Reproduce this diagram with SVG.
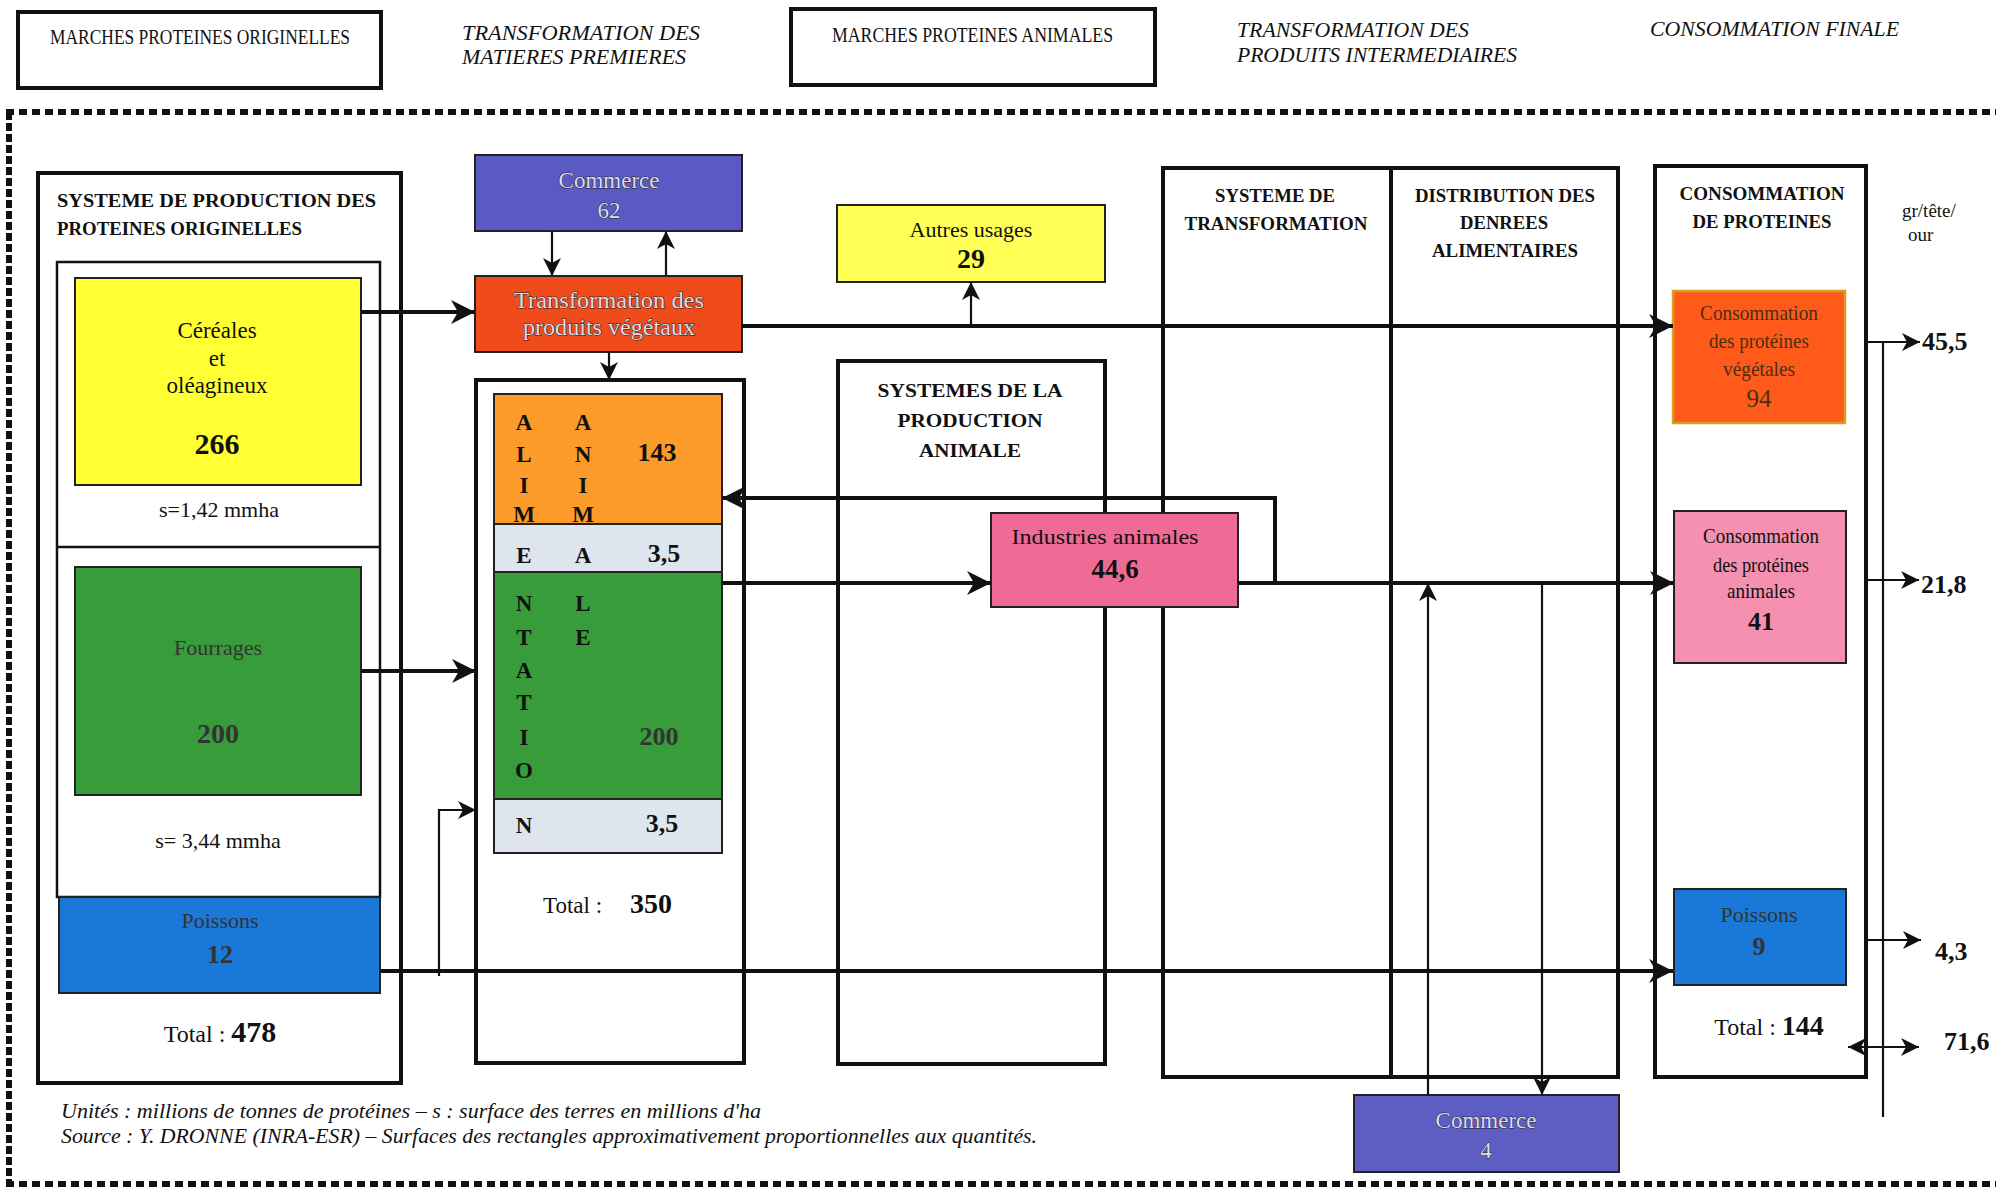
<svg xmlns="http://www.w3.org/2000/svg" width="1996" height="1192" viewBox="0 0 1996 1192">
<defs>
<style>
.t{font-family:"Liberation Serif","Times New Roman",serif;fill:#111}
.b{font-weight:bold}
.i{font-style:italic}
.m{text-anchor:middle}
.box{fill:#fff;stroke:#111;stroke-width:4}
.frame{fill:none;stroke:#111;stroke-width:4}
.inner{fill:none;stroke:#111;stroke-width:2.5}
.node{stroke:#222;stroke-width:2}
.flow{fill:none;stroke:#111;stroke-width:4}
.fine{fill:none;stroke:#111;stroke-width:2.2}
.emb{fill:#dcdcea;stroke:#222;stroke-width:0.9;paint-order:stroke}
.dk{fill:#333}
.dots{fill:none;stroke:#111;stroke-width:6}
</style>
<marker id="ah" markerUnits="userSpaceOnUse" markerWidth="26" markerHeight="26" refX="24" refY="12" orient="auto">
<path d="M0,0 L24,12 L0,24 L7,12 z" fill="#111"/>
</marker>
<marker id="as" markerUnits="userSpaceOnUse" markerWidth="20" markerHeight="20" refX="18" refY="9" orient="auto-start-reverse">
<path d="M0,0 L18,9 L0,18 L5,9 z" fill="#111"/>
</marker>
</defs>
<rect x="0" y="0" width="1996" height="1192" fill="#fff"/>

<!-- header -->
<g id="header-marches-originelles">
<rect x="18" y="12" width="363" height="76" class="frame"/>
<text class="t" x="50" y="44" font-size="22" textLength="300" lengthAdjust="spacingAndGlyphs">MARCHES PROTEINES ORIGINELLES</text>
</g>
<g id="header-transformation-mp">
<text class="t i" x="462" y="40" font-size="22" textLength="238" lengthAdjust="spacingAndGlyphs">TRANSFORMATION  DES</text>
<text class="t i" x="462" y="64" font-size="22" textLength="224" lengthAdjust="spacingAndGlyphs">MATIERES PREMIERES</text>
</g>
<g id="header-marches-animales">
<rect x="791" y="9" width="364" height="76" class="frame"/>
<text class="t" x="832" y="42" font-size="22" textLength="281" lengthAdjust="spacingAndGlyphs">MARCHES PROTEINES ANIMALES</text>
</g>
<g id="header-transformation-pi">
<text class="t i" x="1237" y="37" font-size="22" textLength="232" lengthAdjust="spacingAndGlyphs">TRANSFORMATION DES</text>
<text class="t i" x="1237" y="62" font-size="22" textLength="280" lengthAdjust="spacingAndGlyphs">PRODUITS INTERMEDIAIRES</text>
</g>
<g id="header-consommation-finale">
<text class="t i" x="1650" y="36" font-size="22" textLength="249" lengthAdjust="spacingAndGlyphs">CONSOMMATION FINALE</text>
</g>

<!-- dotted frame -->
<g id="dotted-frame">
<line x1="6" y1="112" x2="1996" y2="112" class="dots" stroke-dasharray="8 5"/>
<line x1="9" y1="112" x2="9" y2="1186" class="dots" stroke-width="5" stroke-dasharray="8 3"/>
<line x1="6" y1="1184" x2="1996" y2="1184" class="dots" stroke-dasharray="8 5"/>
</g>

<!-- left system -->
<g id="systeme-production-originelles">
<rect x="38" y="173" width="363" height="910" class="box"/>
<text class="t b" x="57" y="207" font-size="18" textLength="319" lengthAdjust="spacingAndGlyphs">SYSTEME  DE  PRODUCTION  DES</text>
<text class="t b" x="57" y="235" font-size="18" textLength="245" lengthAdjust="spacingAndGlyphs">PROTEINES ORIGINELLES</text>
<rect x="57" y="262" width="323" height="635" class="inner"/>
<line x1="57" y1="547" x2="380" y2="547" class="inner"/>
<text class="t m" x="219" y="517" font-size="22">s=1,42 mmha</text>
<text class="t m" x="218" y="848" font-size="22">s= 3,44 mmha</text>
<text class="t m" x="220" y="1042"><tspan font-size="24">Total : </tspan><tspan font-size="30" font-weight="bold">478</tspan></text>
</g>
<g id="cereales">
<rect x="75" y="278" width="286" height="207" fill="#ffff33" class="node"/>
<text class="t m" x="217" y="338" font-size="23">Céréales</text>
<text class="t m" x="217" y="366" font-size="23">et</text>
<text class="t m" x="217" y="393" font-size="23">oléagineux</text>
<text class="t m b" x="217" y="454" font-size="30">266</text>
</g>
<g id="fourrages">
<rect x="75" y="567" width="286" height="228" fill="#389c3a" class="node"/>
<text class="t m dk" x="218" y="655" font-size="22">Fourrages</text>
<text class="t m b dk" x="218" y="743" font-size="28">200</text>
</g>
<g id="poissons-origine">
<rect x="59" y="897" width="321" height="96" fill="#1a78d8" class="node"/>
<text class="t m dk" x="220" y="928" font-size="22">Poissons</text>
<text class="t m b dk" x="220" y="963" font-size="26">12</text>
</g>

<!-- transformation des matieres premieres -->
<g id="commerce-62">
<rect x="475" y="155" width="267" height="76" fill="#5a5ac4" class="node"/>
<text class="t m emb" x="609" y="188" font-size="23">Commerce</text>
<text class="t m emb" x="609" y="218" font-size="23">62</text>
</g>
<g id="transformation-vegetaux">
<rect x="475" y="276" width="267" height="76" fill="#ef4b1b" class="node"/>
<text class="t m emb" x="609" y="308" font-size="23" textLength="190" lengthAdjust="spacingAndGlyphs">Transformation des</text>
<text class="t m emb" x="609" y="335" font-size="23" textLength="172" lengthAdjust="spacingAndGlyphs">produits végétaux</text>
</g>
<g id="alimentation-animale">
<rect x="476" y="380" width="268" height="683" class="box"/>
<rect x="494" y="394" width="228" height="130" fill="#fd9b2a" class="node"/>
<rect x="494" y="524" width="228" height="48" fill="#dfe5ee" class="node"/>
<rect x="494" y="572" width="228" height="227" fill="#389c3a" class="node"/>
<rect x="494" y="799" width="228" height="54" fill="#dfe5ee" class="node"/>
<text class="t b m" font-size="23"><tspan x="524" y="430">A</tspan><tspan x="524" y="462">L</tspan><tspan x="524" y="493">I</tspan><tspan x="524" y="522">M</tspan><tspan x="524" y="563">E</tspan><tspan x="524" y="611">N</tspan><tspan x="524" y="645">T</tspan><tspan x="524" y="678">A</tspan><tspan x="524" y="710">T</tspan><tspan x="524" y="745">I</tspan><tspan x="524" y="778">O</tspan><tspan x="524" y="833">N</tspan></text>
<text class="t b m" font-size="23"><tspan x="583" y="430">A</tspan><tspan x="583" y="462">N</tspan><tspan x="583" y="493">I</tspan><tspan x="583" y="522">M</tspan><tspan x="583" y="563">A</tspan><tspan x="583" y="611">L</tspan><tspan x="583" y="645">E</tspan></text>
<text class="t b m" x="657" y="461" font-size="26">143</text>
<text class="t b m" x="664" y="562" font-size="26">3,5</text>
<text class="t b m dk" x="659" y="745" font-size="26">200</text>
<text class="t b m" x="662" y="832" font-size="26">3,5</text>
<text class="t" x="543" y="913"><tspan font-size="23">Total :   </tspan><tspan font-size="28" font-weight="bold" x="630">350</tspan></text>
</g>

<!-- animal production -->
<g id="autres-usages">
<rect x="837" y="205" width="268" height="77" fill="#ffff55" class="node"/>
<text class="t m" x="971" y="237" font-size="22">Autres usages</text>
<text class="t m b" x="971" y="268" font-size="28">29</text>
</g>
<g id="systemes-production-animale">
<rect x="838" y="361" width="267" height="703" class="box"/>
<text class="t b m" x="970" y="397" font-size="19" textLength="185" lengthAdjust="spacingAndGlyphs">SYSTEMES DE LA</text>
<text class="t b m" x="970" y="427" font-size="19" textLength="145" lengthAdjust="spacingAndGlyphs">PRODUCTION</text>
<text class="t b m" x="970" y="457" font-size="19" textLength="102" lengthAdjust="spacingAndGlyphs">ANIMALE</text>
</g>

<!-- transformation / distribution -->
<g id="systeme-transformation">
<rect x="1163" y="168" width="228" height="909" class="frame"/>
<text class="t b m" x="1275" y="202" font-size="19" textLength="120" lengthAdjust="spacingAndGlyphs">SYSTEME DE</text>
<text class="t b m" x="1276" y="230" font-size="19" textLength="183" lengthAdjust="spacingAndGlyphs">TRANSFORMATION</text>
</g>
<g id="distribution-denrees">
<rect x="1391" y="168" width="227" height="909" class="frame"/>
<text class="t b m" x="1505" y="202" font-size="19" textLength="180" lengthAdjust="spacingAndGlyphs">DISTRIBUTION DES</text>
<text class="t b m" x="1504" y="229" font-size="19" textLength="88" lengthAdjust="spacingAndGlyphs">DENREES</text>
<text class="t b m" x="1505" y="257" font-size="19" textLength="146" lengthAdjust="spacingAndGlyphs">ALIMENTAIRES</text>
</g>
<g id="industries-animales">
<rect x="991" y="513" width="247" height="94" fill="#f06a96" class="node"/>
<text class="t m" x="1105" y="544" font-size="22" textLength="187" lengthAdjust="spacingAndGlyphs">Industries animales</text>
<text class="t m b" x="1115" y="578" font-size="27">44,6</text>
</g>
<g id="commerce-4">
<rect x="1354" y="1095" width="265" height="77" fill="#5d5dc4" class="node"/>
<text class="t m emb" x="1486" y="1128" font-size="23">Commerce</text>
<text class="t m emb" x="1486" y="1158" font-size="23">4</text>
</g>

<!-- consumption -->
<g id="consommation-proteines">
<rect x="1655" y="166" width="211" height="911" class="frame"/>
<text class="t b m" x="1762" y="200" font-size="19" textLength="165" lengthAdjust="spacingAndGlyphs">CONSOMMATION</text>
<text class="t b m" x="1762" y="228" font-size="19" textLength="139" lengthAdjust="spacingAndGlyphs">DE PROTEINES</text>
<text class="t m" x="1769" y="1035"><tspan font-size="24">Total : </tspan><tspan font-size="28" font-weight="bold">144</tspan></text>
</g>
<g id="consommation-vegetales">
<rect x="1673" y="291" width="172" height="132" fill="#ff5a1a" stroke="#d8a020" stroke-width="2.5"/>
<text class="t m" x="1759" y="320" font-size="21" textLength="118" lengthAdjust="spacingAndGlyphs" style="fill:#4a3010">Consommation</text>
<text class="t m" x="1759" y="348" font-size="21" style="fill:#4a3010" textLength="100" lengthAdjust="spacingAndGlyphs">des protéines</text>
<text class="t m" x="1759" y="376" font-size="21" style="fill:#4a3010" textLength="72" lengthAdjust="spacingAndGlyphs">végétales</text>
<text class="t m" x="1759" y="407" font-size="25" style="fill:#4a3010">94</text>
</g>
<g id="consommation-animales">
<rect x="1674" y="511" width="172" height="152" fill="#f590b0" class="node"/>
<text class="t m" x="1761" y="543" font-size="21" textLength="116" lengthAdjust="spacingAndGlyphs">Consommation</text>
<text class="t m" x="1761" y="572" font-size="21" textLength="96" lengthAdjust="spacingAndGlyphs">des protéines</text>
<text class="t m" x="1761" y="598" font-size="21" textLength="68" lengthAdjust="spacingAndGlyphs">animales</text>
<text class="t m b" x="1761" y="630" font-size="26">41</text>
</g>
<g id="poissons-consommation">
<rect x="1674" y="889" width="172" height="96" fill="#1a78d8" class="node"/>
<text class="t m dk" x="1759" y="922" font-size="22">Poissons</text>
<text class="t m b dk" x="1759" y="955" font-size="26">9</text>
</g>
<g id="gr-tete-jour">
<text class="t" x="1902" y="217" font-size="19">gr/tête/</text>
<text class="t" x="1908" y="241" font-size="19">our</text>
<text class="t b" x="1922" y="350" font-size="26">45,5</text>
<text class="t b" x="1921" y="593" font-size="26">21,8</text>
<text class="t b" x="1935" y="960" font-size="26">4,3</text>
<text class="t b" x="1944" y="1050" font-size="26">71,6</text>
</g>

<!-- connectors -->
<g id="connectors">
<path d="M361,312 H475" class="flow" marker-end="url(#ah)"/>
<path d="M552,231 V276" class="fine" marker-end="url(#as)"/>
<path d="M666,276 V231" class="fine" marker-end="url(#as)"/>
<path d="M609,352 V380" class="fine" marker-end="url(#as)"/>
<path d="M742,326 H1673" class="flow" marker-end="url(#ah)"/>
<path d="M971,326 V282" class="fine" marker-end="url(#as)"/>
<path d="M361,671 H476" class="flow" marker-end="url(#ah)"/>
<path d="M380,971 H1673" class="flow" marker-end="url(#ah)"/>
<path d="M439,976 V810 H476" class="fine" marker-end="url(#as)"/>
<path d="M722,583 H991" class="flow" marker-end="url(#ah)"/>
<path d="M1238,583 H1674" class="flow" marker-end="url(#ah)"/>
<path d="M1275,585 V498 H722" class="flow" marker-end="url(#ah)"/>
<path d="M1428,1095 V583" class="fine" marker-end="url(#as)"/>
<path d="M1542,583 V1095" class="fine" marker-end="url(#as)"/>
<path d="M1866,342 H1920" class="fine" marker-end="url(#as)"/>
<path d="M1866,580 H1919" class="fine" marker-end="url(#as)"/>
<path d="M1866,940 H1921" class="fine" marker-end="url(#as)"/>
<path d="M1848,1047 H1919" class="fine" marker-start="url(#as)" marker-end="url(#as)"/>
<path d="M1883,342 V1117" class="fine"/>
</g>

<!-- notes -->
<g id="notes">
<text class="t i" x="61" y="1118" font-size="20" textLength="700" lengthAdjust="spacingAndGlyphs">Unités : millions de tonnes de protéines – s : surface des terres en  millions d'ha</text>
<text class="t i" x="61" y="1143" font-size="20" textLength="976" lengthAdjust="spacingAndGlyphs">Source : Y. DRONNE (INRA-ESR) – Surfaces des rectangles approximativement proportionnelles aux quantités.</text>
</g>
</svg>
